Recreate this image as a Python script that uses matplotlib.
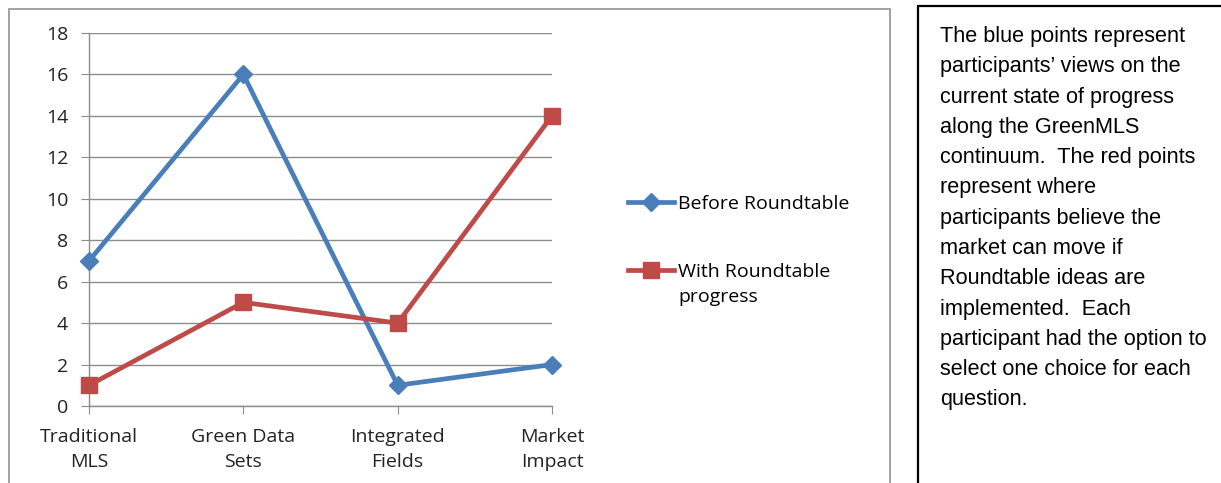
import matplotlib.pyplot as plt
from matplotlib.patches import Rectangle

categories = ["Traditional\nMLS", "Green Data\nSets", "Integrated\nFields", "Market\nImpact"]
before = [7, 16, 1, 2]
with_progress = [1, 5, 4, 14]
y_ticks = list(range(0, 19, 2))

note = ("The blue points represent\n"
        "participants\u2019 views on the\n"
        "current state of progress\n"
        "along the GreenMLS\n"
        "continuum.  The red points\n"
        "represent where\n"
        "participants believe the\n"
        "market can move if\n"
        "Roundtable ideas are\n"
        "implemented.  Each\n"
        "participant had the option to\n"
        "select one choice for each\n"
        "question.")

BLUE = "#4A7EBB"
RED = "#BE4B48"
GRID = "#8C8C8C"
chart_font = ["Open Sans", "DejaVu Sans"]
note_font = ["Liberation Sans", "DejaVu Sans"]
FS = 14

fig = plt.figure(figsize=(12.21, 4.83), dpi=100)
W, H = 1221, 483

# chart frame and note box
fig.patches.append(Rectangle((9 / W, -0.1), (890 - 9) / W, 1.1 - 9 / H,
                             transform=fig.transFigure, fill=False,
                             edgecolor="#9A9A9A", linewidth=1.3))
fig.patches.append(Rectangle((918 / W, -0.1), 0.5, 1.1 - 6 / H,
                             transform=fig.transFigure, fill=False,
                             edgecolor="black", linewidth=1.6))

ax = fig.add_axes([89 / W, 1 - 406 / H, (552 - 89) / W, (406 - 33) / H])
x = range(len(categories))
ax.plot(x, before, color=BLUE, linewidth=3.4, marker="D", markersize=9.5,
        label="Before Roundtable", clip_on=False, zorder=3)
ax.plot(x, with_progress, color=RED, linewidth=3.4, marker="s", markersize=11.5,
        label="With Roundtable", clip_on=False, zorder=3)

ax.set_xlim(0, len(categories) - 1)
ax.set_ylim(0, 18)
ax.set_yticks(y_ticks)
ax.set_xticks(list(x))
ax.set_xticklabels(categories, fontsize=FS, family=chart_font, color="#222222",
                   linespacing=1.5)
for lab in ax.get_yticklabels():
    lab.set_fontsize(FS)
    lab.set_family(chart_font)
    lab.set_color("#222222")
ax.yaxis.grid(True, color=GRID, linewidth=1)
ax.set_axisbelow(True)
for side in ("top", "right"):
    ax.spines[side].set_visible(False)
for side in ("left", "bottom"):
    ax.spines[side].set_color(GRID)
    ax.spines[side].set_linewidth(1)
ax.tick_params(axis="y", length=6, color=GRID, pad=9)
ax.tick_params(axis="x", length=6, color=GRID, pad=10)

ax.legend(loc="upper left", bbox_to_anchor=(618 / W, 1 - 185 / H),
          bbox_transform=fig.transFigure, frameon=False, handlelength=2.4,
          handletextpad=0.2, labelspacing=2.6, borderpad=0,
          prop={"family": chart_font, "size": FS})
# second line of the red series label
fig.text(678 / W, 1 - 297 / H, "progress", ha="left", va="center",
         fontsize=FS, family=chart_font, color="black")

fig.text(940 / W, 1 - 26 / H, note, ha="left", va="top", fontsize=15.6,
         family=note_font, linespacing=1.58, color="black")

fig.savefig("out.png", dpi=100)
